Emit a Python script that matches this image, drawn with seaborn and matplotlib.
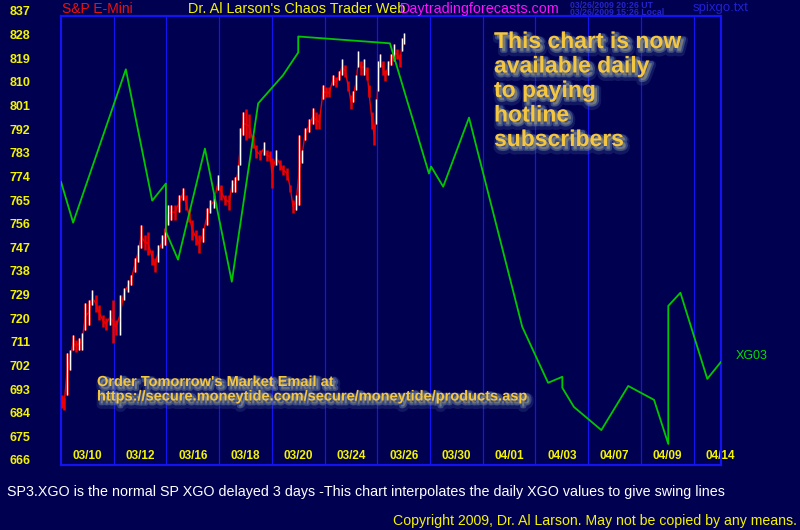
"""
S&P E-Mini price bars with the SP3.XGO swing line (Chaos Trader style chart).
"""

import matplotlib
matplotlib.use("Agg")  # headless
import matplotlib.pyplot as plt
import matplotlib.patheffects as pe
import matplotlib.transforms as mtransforms
import seaborn as sns
import pandas as pd

# ---- data ------------------------------------------------------------------
# x positions are in "slots": one slot per date label (two trading days)
date_labels = ["03/10", "03/12", "03/16", "03/18", "03/20", "03/24", "03/26",
               "03/30", "04/01", "04/03", "04/07", "04/09", "04/14"]
label_pos = [0.5, 1.5, 2.5, 3.5, 4.5, 5.5, 6.5, 7.5, 8.5, 9.5, 10.5, 11.5, 12.5]
grid_pos = [1, 2, 3, 4, 5, 6, 7, 8, 9, 10, 11, 12]
y_ticks = [666, 675, 684, 693, 702, 711, 720, 729, 738, 747, 756, 765, 774,
           783, 792, 801, 810, 819, 828, 837]

# SP3.XGO swing line (daily XGO values, interpolated)
xgo_x = [0.00, 0.23, 1.23, 1.73, 1.99, 1.99, 2.22, 2.73, 3.24, 3.74, 4.21,
         4.50, 4.50, 6.24, 6.98, 7.02, 7.25, 7.74, 8.75, 9.24, 9.51, 9.51,
         9.73, 10.25, 10.76, 11.25, 11.52, 11.52, 11.75, 12.26, 12.52]
xgo_v = [773.9, 758.3, 816.7, 766.7, 773.2, 754.9, 744.2, 786.5, 735.8, 803.7,
         814.4, 823.1, 829.2, 826.6, 777.0, 779.7, 772.0, 798.3, 718.6, 697.3,
         699.6, 695.4, 688.1, 679.3, 696.1, 690.8, 674.0, 726.6, 731.6, 698.8,
         705.3]

# S&P E-Mini bars (time, high, low)
bar_x = [0.02, 0.06, 0.11, 0.17, 0.23, 0.28, 0.34, 0.40, 0.46, 0.53, 0.59,
         0.66, 0.72, 0.80, 0.85, 0.93, 0.99, 1.04, 1.12, 1.19, 1.27, 1.33,
         1.40, 1.46, 1.52, 1.59, 1.65, 1.73, 1.78, 1.84, 1.92, 1.97, 2.03,
         2.09, 2.16, 2.24, 2.31, 2.37, 2.43, 2.49, 2.56, 2.62, 2.69, 2.77,
         2.83, 2.90, 2.98, 3.04, 3.11, 3.19, 3.24, 3.30, 3.36, 3.40, 3.45,
         3.51, 3.57, 3.64, 3.70, 3.78, 3.85, 3.91, 3.97, 4.00, 4.08, 4.16,
         4.21, 4.29, 4.35, 4.40, 4.46, 4.52, 4.57, 4.63, 4.71, 4.78, 4.84,
         4.90, 4.97, 5.03, 5.09, 5.16, 5.22, 5.28, 5.33, 5.39, 5.45, 5.50,
         5.54, 5.60, 5.64, 5.69, 5.75, 5.81, 5.84, 5.90, 5.94, 5.98, 6.02,
         6.05, 6.11, 6.15, 6.20, 6.26, 6.32, 6.38, 6.43, 6.47, 6.51]
bar_hi = [692.7, 691.6, 708.7, 709.9, 715.6, 713.7, 714.4, 716.3, 727.8, 728.9,
          732.7, 730.8, 727.0, 723.2, 722.1, 725.1, 728.9, 721.3, 730.8, 733.5,
          736.6, 738.5, 744.9, 749.9, 757.5, 753.7, 754.9, 748.0, 744.9, 749.9,
          753.7, 756.4, 765.2, 765.2, 765.2, 769.0, 771.6, 769.0, 763.2, 759.4,
          755.6, 753.7, 756.4, 764.0, 767.1, 769.0, 776.6, 772.8, 769.0, 769.0,
          774.7, 775.5, 780.4, 794.5, 800.6, 801.4, 799.5, 791.8, 788.0, 786.1,
          789.2, 786.1, 785.4, 783.1, 786.1, 782.3, 780.4, 779.3, 772.8, 767.1,
          769.0, 791.8, 786.1, 794.5, 797.6, 802.1, 800.6, 799.5, 810.9, 809.8,
          809.8, 814.7, 813.6, 815.9, 820.5, 818.5, 812.1, 807.1, 808.3, 814.7,
          823.5, 819.7, 820.5, 817.4, 810.9, 800.6, 795.7, 805.2, 819.7, 822.4,
          819.7, 816.6, 819.7, 822.4, 826.2, 824.3, 822.4, 828.8, 830.7]
bar_lo = [687.7, 687.0, 692.7, 702.2, 709.9, 709.1, 709.9, 709.9, 717.5, 719.4,
          727.0, 724.3, 721.3, 718.6, 717.5, 719.4, 712.5, 715.6, 715.6, 728.9,
          732.0, 734.6, 739.6, 743.4, 748.8, 748.0, 746.1, 742.3, 739.6, 743.4,
          748.8, 749.9, 757.5, 759.4, 759.4, 762.5, 767.1, 763.2, 758.7, 751.8,
          749.9, 746.8, 751.0, 757.5, 762.1, 764.0, 770.9, 767.1, 765.2, 763.2,
          770.1, 770.1, 774.7, 780.4, 791.8, 789.9, 790.7, 786.9, 783.1, 782.3,
          784.2, 781.6, 781.6, 771.6, 780.4, 778.5, 776.6, 774.7, 770.1, 762.1,
          763.2, 765.2, 781.2, 789.9, 793.0, 795.7, 793.8, 793.8, 805.2, 806.0,
          806.0, 810.9, 809.8, 812.8, 814.7, 813.6, 808.3, 801.4, 804.4, 809.0,
          817.4, 814.7, 814.7, 812.8, 806.0, 793.8, 788.0, 795.7, 808.3, 817.4,
          814.7, 812.1, 814.7, 818.5, 819.7, 820.5, 817.4, 823.5, 826.2]

promo_lines = ["This chart is now", "available daily", "to paying",
               "hotline", "subscribers"]
order_lines = ["Order Tomorrow's Market Email at",
               "https://secure.moneytide.com/secure/moneytide/products.asp"]

# ---- style ------------------------------------------------------------------
BG = "#000050"
BLUE = "#1414f0"
GOLD = "#f5c640"
YELLOW = "#f4f400"
NARROW = ["DejaVu Sans Condensed", "Liberation Sans", "DejaVu Sans"]

sns.set_style("dark")
plt.rcParams["font.family"] = ["Liberation Sans", "DejaVu Sans"]


def shadow(color="#5a78a8"):
    return [pe.Stroke(linewidth=6, foreground=color, alpha=0.2, offset=(2, -3)),
            pe.Stroke(linewidth=3, foreground=color, alpha=0.5, offset=(2, -2)),
            pe.Normal()]


fig = plt.figure(figsize=(8, 5.3), dpi=100, facecolor=BG)
ax = fig.add_axes([61 / 800, 65 / 530, 660 / 800, 449 / 530])
ax.set_facecolor(BG)

# price bars
bars = pd.DataFrame({"x": bar_x, "hi": bar_hi, "lo": bar_lo})
bars["mid"] = (bars["hi"] + bars["lo"]) / 2
up = bars[bars["mid"] > bars["mid"].shift(1)]
ax.plot(bars["x"], bars["mid"], color="#ee0000", lw=1.0, zorder=3)
ax.vlines(bars["x"], bars["lo"], bars["hi"], color="#ee0000", lw=1.8, zorder=3)
ax.vlines(up["x"], up["lo"], up["hi"], color="#ffffff", lw=0.9, zorder=4)

# XGO swing line
xgo = pd.DataFrame({"x": xgo_x, "v": xgo_v})
sns.lineplot(data=xgo, x="x", y="v", sort=False, estimator=None,
             color="#00c800", lw=1.3, ax=ax, zorder=5)

ax.set_xlim(0, 12.52)
ax.set_ylim(666, 837)
ax.set_xlabel("")
ax.set_ylabel("")

ax.set_xticks(label_pos, date_labels)
ax.set_xticks(grid_pos, minor=True)
ax.tick_params(axis="x", which="both", length=0, pad=-11, labelcolor=YELLOW,
               labelsize=8.5)
ax.grid(False)
ax.grid(which="minor", axis="x", color=BLUE, lw=0.9)
for lbl in ax.get_xticklabels():
    lbl.set_family(NARROW)
    lbl.set_fontweight("bold")

ax.set_yticks(y_ticks)
ax.tick_params(axis="y", length=3, width=1, color="#00a000", labelcolor=YELLOW,
               labelsize=9, pad=19)
shift = mtransforms.ScaledTranslation(0, 0.05, fig.dpi_scale_trans)
for lbl in ax.get_yticklabels():
    lbl.set_family(NARROW)
    lbl.set_fontweight("bold")
    lbl.set_transform(lbl.get_transform() + shift)

for side in ["left", "right", "top", "bottom"]:
    ax.spines[side].set_visible(True)
    ax.spines[side].set_color(BLUE)
    ax.spines[side].set_linewidth(1.6)

# labels inside the plot
fig.text(736 / 800, 1 - 356 / 530, "XG03", color="#00e000", fontsize=9,
         family=NARROW, va="center")

for i, line in enumerate(promo_lines):
    fig.text(494 / 800, 1 - (48 + 24.5 * i) / 530, line, color=GOLD,
             fontsize=16.5, fontweight="bold", va="baseline",
             path_effects=shadow())
for i, line in enumerate(order_lines):
    fig.text(97 / 800, 1 - (386 + 14.5 * i) / 530, line, color=GOLD,
             fontsize=10.5, fontweight="bold", va="baseline",
             path_effects=shadow())

# header
fig.text(62 / 800, 1 - 9 / 530, "S&P E-Mini", color="#ee1010", fontsize=10,
         va="center")
fig.text(188 / 800, 1 - 9 / 530, "Dr. Al Larson's Chaos Trader Web",
         color=YELLOW, fontsize=10.4, va="center")
fig.text(400 / 800, 1 - 9 / 530, "Daytradingforecasts.com", color="#ff10ff",
         fontsize=10.4, va="center")
fig.text(570 / 800, 1 - 5 / 530, "03/26/2009 20:26 UT", color="#2424c8",
         fontsize=6.3, fontweight="bold", va="center")
fig.text(570 / 800, 1 - 12.5 / 530, "03/26/2009 15:26 Local", color="#2424c8",
         fontsize=6.3, fontweight="bold", va="center")
fig.text(693 / 800, 1 - 8 / 530, "spixgo.txt", color="#2020d8", fontsize=9.5,
         va="center")

# footer
fig.text(7 / 800, 1 - 492 / 530,
         "SP3.XGO is the normal SP XGO delayed 3 days -This chart interpolates "
         "the daily XGO values to give swing lines",
         color="#ffffff", fontsize=10.3, va="center")
fig.text(797 / 800, 1 - 521 / 530,
         "Copyright 2009, Dr. Al Larson. May not be copied by any means.",
         color=YELLOW, fontsize=10.2, ha="right", va="center")

fig.savefig("out.png", dpi=100, facecolor=BG)
plt.close(fig)
